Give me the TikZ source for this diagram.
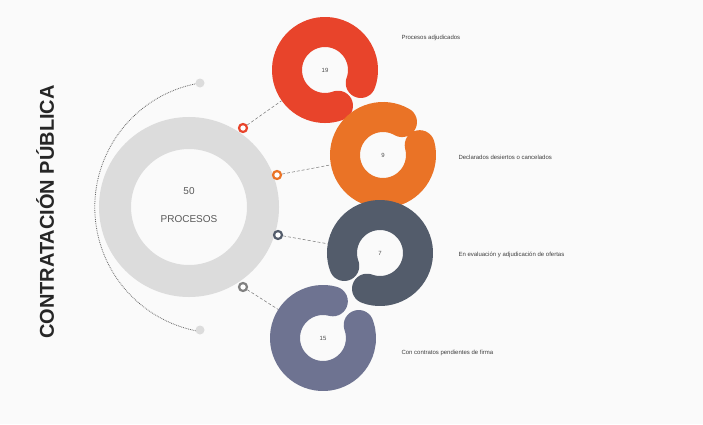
\documentclass[tikz,border=0pt]{standalone}
\usepackage{fontspec}
\setmainfont{Liberation Sans}
\usetikzlibrary{positioning}

\definecolor{rojo}{HTML}{E8442B}
\definecolor{naranja}{HTML}{EA7326}
\definecolor{pizarra}{HTML}{535C6B}
\definecolor{lavanda}{HTML}{6E7391}
\definecolor{gris}{HTML}{DCDCDC}
\definecolor{fondo}{HTML}{FAFAFA}

\tikzset{
  anillo/.style={line width=30pt, line cap=round},
  marca/.style={circle, draw=#1, line width=2.2pt, fill=white, minimum size=8pt, inner sep=0pt},
  hueco/.style={circle, minimum size=106pt, inner sep=0pt, font=\fontsize{6}{7}\selectfont, text=black!70},
  enlace/.style={densely dashed, line width=0.5pt, draw=black!55},
  etiqueta/.style={anchor=west, font=\fontsize{6}{7}\selectfont, text=black!75}
}

\begin{document}
\begin{tikzpicture}[x=1pt, y=1pt]
			% Fondo
				\fill[fondo] (0,0) rectangle (703,424);
				\useasboundingbox (0,0) rectangle (703,424);

			% Titulo
				\node[rotate=90, font=\bfseries\fontsize{20}{24}\selectfont, text=black!85] (titulo) at (45,212) {CONTRATACIÓN PÚBLICA};

			% Arco punteado
				\coordinate (arco) at (221,217);
				\draw[densely dotted, line width=0.8pt, black!60] (200,341) arc[start angle=99.5, end angle=260.5, radius=126];
				\node[circle, fill=gris, minimum size=9pt, inner sep=0pt] (tope) at (200,341) {};
				\node[circle, fill=gris, minimum size=9pt, inner sep=0pt] (base) at (200,94) {};

			% Anillo gris
				\draw[gris, line width=32pt] (189,217) circle[radius=74];
				\node[font=\fontsize{10}{12}\selectfont, text=black!65] (total) at (189,233) {50};
				\node[font=\fontsize{10}{12}\selectfont, text=black!65, below=14pt of total] (procesos) {PROCESOS};

			% Anillos de color
				\draw[anillo, rojo] (325,354) ++(-20:38) arc[start angle=-20, end angle=290, radius=38];
				\draw[anillo, naranja] (383,269) ++(60:38) arc[start angle=60, end angle=375, radius=38];
				\draw[anillo, pizarra] (380,171) ++(250:38) arc[start angle=250, end angle=560, radius=38];
				\draw[anillo, lavanda] (323,86) ++(75:38) arc[start angle=75, end angle=380, radius=38];

				\node[hueco] (adj) at (325,354) {19};
				\node[hueco] (des) at (383,269) {9};
				\node[hueco] (eva) at (380,171) {7};
				\node[hueco] (pen) at (323,86) {15};

			% Marcas
				\node[marca=rojo] (m1) at (243,296) {};
				\node[marca=naranja] (m2) at (277,249) {};
				\node[marca=pizarra] (m3) at (278,189) {};
				\node[marca=black!50] (m4) at (243,137) {};

				\draw[enlace] (m1) -- (adj);
				\draw[enlace] (m2) -- (des);
				\draw[enlace] (m3) -- (eva);
				\draw[enlace] (m4) -- (pen);

			% Etiquetas
				\node[etiqueta] (e1) at (398,386) {Procesos adjudicados};
				\node[etiqueta] (e2) at (455,267) {Declarados desiertos o cancelados};
				\node[etiqueta] (e3) at (455,169) {En evaluación y adjudicación de ofertas};
				\node[etiqueta] (e4) at (398,71) {Con contratos pendientes de firma};
\end{tikzpicture}
\end{document}
